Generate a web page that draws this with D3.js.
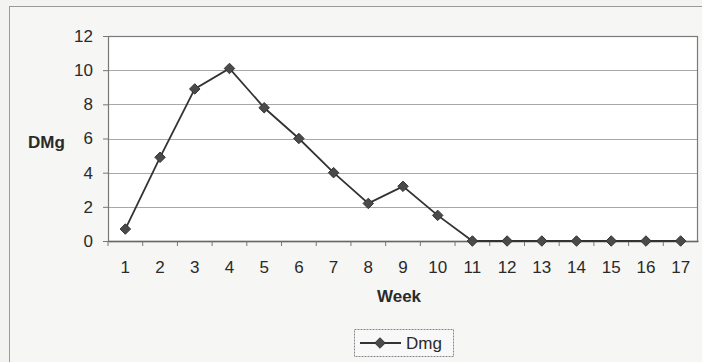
<!DOCTYPE html>
<html>
<head>
<meta charset="utf-8">
<script src="https://cdn.jsdelivr.net/npm/d3@7"></script>
<style>
  html, body { margin: 0; padding: 0; background: #f3f3f1; }
  svg { display: block; }
  text { font-family: "Liberation Sans", Arial, sans-serif; fill: #2a2a2a; }
</style>
</head>
<body>
<svg id="chart" width="702" height="362"></svg>
<script>
// Weekly DMg values
const weeks = ["1","2","3","4","5","6","7","8","9","10","11","12","13","14","15","16","17"];
const dmg = [0.7, 4.9, 8.9, 10.1, 7.8, 6.0, 4.0, 2.2, 3.2, 1.5, 0, 0, 0, 0, 0, 0, 0];
const yTicks = [0, 2, 4, 6, 8, 10, 12];
const seriesName = "Dmg";

const svg = d3.select("#chart");
const W = 702, H = 362;
const margin = { left: 108, right: 4, top: 36, bottom: 121 };
const plotW = W - margin.left - margin.right;
const plotH = H - margin.top - margin.bottom;
const fs = 17;

// outer chart frame
svg.append("rect")
  .attr("x", 9.5).attr("y", 6.5)
  .attr("width", W + 10).attr("height", H + 10)
  .attr("fill", "#f6f6f4").attr("stroke", "#9a9a9a").attr("stroke-width", 1);

const g = svg.append("g").attr("transform", `translate(${margin.left},${margin.top})`);

const x = d3.scaleBand().domain(weeks).range([0, plotW]);
const y = d3.scaleLinear().domain([0, 12]).range([plotH, 0]);

// plot area
g.append("rect")
  .attr("x", 0).attr("y", 0).attr("width", plotW).attr("height", plotH)
  .attr("fill", "#ffffff");

// horizontal gridlines
g.append("g").selectAll("line").data(yTicks.filter(d => d > 0 && d < 12)).join("line")
  .attr("x1", 0).attr("x2", plotW)
  .attr("y1", d => Math.round(y(d)) + 0.5).attr("y2", d => Math.round(y(d)) + 0.5)
  .attr("stroke", "#a8a8a8").attr("stroke-width", 1);

// plot border
g.append("rect")
  .attr("x", 0.5).attr("y", 0.5).attr("width", plotW - 1).attr("height", plotH)
  .attr("fill", "none").attr("stroke", "#7a7a7a").attr("stroke-width", 1.2);

// y axis
const yAxis = g.append("g")
  .call(d3.axisLeft(y).tickValues(yTicks).tickSize(5).tickPadding(10).tickFormat(d3.format("d")));
yAxis.select(".domain").attr("stroke", "#777");
yAxis.selectAll(".tick line").attr("stroke", "#777");
yAxis.selectAll("text").attr("font-size", fs).style("fill", "#2a2a2a");

// x axis with ticks between categories
const xAxis = g.append("g").attr("transform", `translate(0,${plotH})`)
  .call(d3.axisBottom(x).tickSize(0).tickPadding(20));
xAxis.select(".domain").attr("stroke", "#666").attr("stroke-width", 1.5);
xAxis.selectAll("text").attr("font-size", fs).style("fill", "#2a2a2a");
g.append("g").attr("transform", `translate(0,${plotH})`)
  .selectAll("line").data(weeks).join("line")
  .attr("x1", d => x(d)).attr("x2", d => x(d))
  .attr("y1", 0).attr("y2", 5)
  .attr("stroke", "#777");

// axis titles
svg.append("text")
  .attr("x", 28).attr("y", 148)
  .attr("font-size", fs).attr("font-weight", "bold")
  .text("DMg");
svg.append("text")
  .attr("x", 104 + plotW / 2).attr("y", 302)
  .attr("text-anchor", "middle")
  .attr("font-size", fs).attr("font-weight", "bold")
  .text("Week");

// series line
const cx = d => x(d) + x.bandwidth() / 2;
const line = d3.line().x((d, i) => cx(weeks[i])).y(d => y(d));
g.append("path")
  .datum(dmg)
  .attr("d", line)
  .attr("fill", "none").attr("stroke", "#333").attr("stroke-width", 1.8);

// diamond markers
const diamond = d3.symbol().type(d3.symbolDiamond2).size(70);
g.append("g").selectAll("path").data(dmg).join("path")
  .attr("d", diamond)
  .attr("transform", (d, i) => `translate(${cx(weeks[i])},${y(d)})`)
  .attr("fill", "#4a4a4a").attr("stroke", "#333").attr("stroke-width", 1);

// legend
const lg = svg.append("g").attr("transform", "translate(354,329)");
lg.append("rect")
  .attr("x", 0.5).attr("y", 0.5).attr("width", 99).attr("height", 27)
  .attr("fill", "#f8f8f8").attr("stroke", "#888").attr("stroke-dasharray", "2,1");
lg.append("line")
  .attr("x1", 6).attr("x2", 47).attr("y1", 14).attr("y2", 14)
  .attr("stroke", "#333").attr("stroke-width", 1.8);
lg.append("path")
  .attr("d", diamond)
  .attr("transform", "translate(26,14)")
  .attr("fill", "#4a4a4a").attr("stroke", "#333");
lg.append("text")
  .attr("x", 52).attr("y", 20)
  .attr("font-size", fs)
  .text(seriesName);
</script>
</body>
</html>
